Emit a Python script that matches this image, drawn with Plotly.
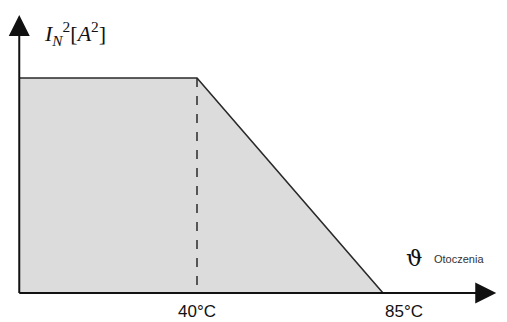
import plotly.graph_objects as go

# Schematic data
origin_temp = -3          # where the vertical axis sits (schematic)
knee_temp = 40            # °C, end of full-load plateau
max_temp = 85             # °C, load falls to zero
plateau_value = 1.0       # I_N^2 (relative)
tick_labels = ["40°C", "85°C"]

x_range = [-7.66, 115.0]
y_range = [-0.135, 1.363]
y_top = 1.293
x_right = 112.4

fig = go.Figure()

# shaded area
fig.add_trace(go.Scatter(
    x=[origin_temp, origin_temp, knee_temp, max_temp, origin_temp],
    y=[0, plateau_value, plateau_value, 0, 0],
    fill="toself", fillcolor="#dcdcdc", mode="lines",
    line=dict(color="rgba(0,0,0,0)", width=0), hoverinfo="skip", showlegend=False))

# outline: plateau + slope
fig.add_trace(go.Scatter(
    x=[origin_temp, knee_temp, max_temp],
    y=[plateau_value, plateau_value, 0],
    mode="lines", line=dict(color="#2a2a2a", width=1.6),
    hoverinfo="skip", showlegend=False))

# dashed vertical at knee
fig.add_trace(go.Scatter(
    x=[knee_temp, knee_temp], y=[plateau_value, 0],
    mode="lines", line=dict(color="#2a2a2a", width=1.5, dash="dash"),
    hoverinfo="skip", showlegend=False))

# axes lines
fig.add_trace(go.Scatter(x=[origin_temp, origin_temp], y=[0, y_top - 0.03],
                         mode="lines", line=dict(color="#111", width=2),
                         hoverinfo="skip", showlegend=False))
fig.add_trace(go.Scatter(x=[origin_temp, x_right - 3], y=[0, 0],
                         mode="lines", line=dict(color="#111", width=2),
                         hoverinfo="skip", showlegend=False))
# arrowheads
fig.add_trace(go.Scatter(x=[origin_temp], y=[y_top], mode="markers",
                         marker=dict(symbol="arrow-up", size=21, color="#111",
                                     line=dict(width=0)),
                         hoverinfo="skip", showlegend=False))
fig.add_trace(go.Scatter(x=[x_right], y=[0], mode="markers",
                         marker=dict(symbol="arrow-right", size=21, color="#111",
                                     line=dict(width=0)),
                         hoverinfo="skip", showlegend=False))

# tick labels
fig.add_annotation(x=knee_temp, y=0, yshift=-19, text=tick_labels[0], showarrow=False,
                   font=dict(family="Liberation Sans, Arial", size=17, color="#111"), xanchor="center")
fig.add_annotation(x=max_temp, y=0, yshift=-19, text=tick_labels[1], showarrow=False,
                   font=dict(family="Liberation Sans, Arial", size=17, color="#111"), xanchor="left")

# axis titles
fig.add_annotation(xref="paper", yref="paper", x=42/507, y=1-33/322,
                   text="<i>I</i><sub><i>N</i></sub><sup>2</sup>[<i>A</i><sup>2</sup>]",
                   showarrow=False, xanchor="left", yanchor="middle",
                   font=dict(family="Liberation Serif, Times New Roman", size=22, color="#111"))
fig.add_annotation(xref="paper", yref="paper", x=404/507, y=1-258/322,
                   text="ϑ", showarrow=False, xanchor="left", yanchor="middle",
                   font=dict(family="DejaVu Serif, Liberation Serif", size=23, color="#111"))
fig.add_annotation(xref="paper", yref="paper", x=432/507, y=1-259/322,
                   text="Otoczenia", showarrow=False, xanchor="left", yanchor="middle",
                   font=dict(family="Liberation Sans, Arial", size=11, color="#333"))

fig.update_xaxes(range=x_range, visible=False, fixedrange=True)
fig.update_yaxes(range=y_range, visible=False, fixedrange=True)
fig.update_layout(width=507, height=322, margin=dict(l=0, r=0, t=0, b=0),
                  paper_bgcolor="white", plot_bgcolor="white", showlegend=False)

fig.write_html("out.html")
